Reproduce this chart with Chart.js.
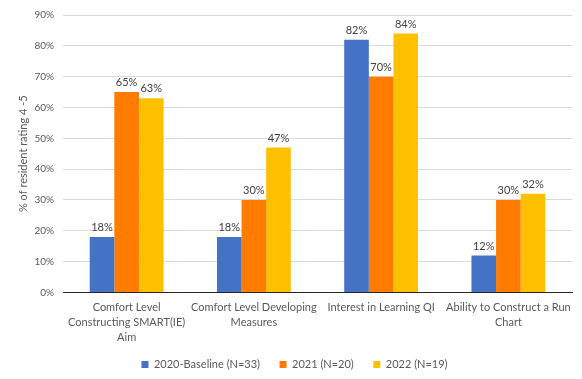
<!DOCTYPE html>
<html>
<head>
<meta charset="utf-8">
<script src="https://cdn.jsdelivr.net/npm/chart.js@4"></script>
<style>
  html, body { margin: 0; padding: 0; background: #fff; }
  #wrap { width: 582px; height: 379px; }
</style>
</head>
<body>
<div id="wrap"><canvas id="chart" width="582" height="379"></canvas></div>
<script>
// --- data ---
const categories = [
    ['Comfort Level', 'Constructing SMART(IE)', 'Aim'],
    ['Comfort Level Developing', 'Measures'],
    ['Interest in Learning QI'],
    ['Ability to Construct a Run', 'Chart']
];
const seriesNames = ['2020-Baseline (N=33)', '2021 (N=20)', '2022 (N=19)'];
const baseline2020 = [18, 18, 82, 12];
const year2021 = [65, 30, 70, 30];
const year2022 = [63, 47, 84, 32];
const seriesColors = ['#4472c4', '#ff7c00', '#ffc000'];
const yTicksMax = 90;

const FONT = 'Lato, "Open Sans", sans-serif';
const TEXT = '#595959';

// simple value labels above bars
const barLabels = {
    id: 'barLabels',
    afterDatasetsDraw(chart) {
        const ctx = chart.ctx;
        ctx.save();
        ctx.font = '11px ' + FONT;
        ctx.fillStyle = '#404040';
        ctx.textAlign = 'center';
        ctx.textBaseline = 'bottom';
        chart.data.datasets.forEach((ds, i) => {
            chart.getDatasetMeta(i).data.forEach((bar, j) => {
                ctx.fillText(ds.data[j] + '%', bar.x, bar.y - 4);
            });
        });
        ctx.restore();
    }
};

const allSeries = [baseline2020, year2021, year2022];

new Chart(document.getElementById('chart'), {
    type: 'bar',
    data: {
        labels: categories,
        datasets: allSeries.map((vals, i) => ({
            label: seriesNames[i],
            data: vals,
            backgroundColor: seriesColors[i],
            categoryPercentage: 0.58,
            barPercentage: 1.0
        }))
    },
    options: {
        responsive: false,
        animation: false,
        layout: { padding: { left: 17, right: 10, top: -5, bottom: -1 } },
        scales: {
            x: {
                grid: { display: false },
                border: { color: '#262626', width: 1 },
                ticks: { color: TEXT, font: { family: FONT, size: 11, lineHeight: 1.35 }, maxRotation: 0, autoSkip: false, padding: 0 }
            },
            y: {
                min: 0,
                max: yTicksMax,
                grid: { color: '#d9d9d9', drawTicks: false },
                border: { display: false },
                ticks: { stepSize: 10, color: TEXT, font: { family: FONT, size: 10 }, padding: 9, callback: v => v + '%' },
                title: { display: true, text: '% of resident rating 4 -5', color: TEXT, font: { family: FONT, size: 11 }, padding: 0 },
                afterFit: scale => { scale.width = 46; }
            }
        },
        plugins: {
            legend: {
                position: 'bottom',
                labels: {
                    boxWidth: 7, boxHeight: 7, color: TEXT, font: { family: FONT, size: 11 }, padding: 14,
                    // a little extra room between legend entries
                    generateLabels: chart => {
                        const items = Chart.defaults.plugins.legend.labels.generateLabels(chart);
                        items.forEach((it, i) => { if (i < items.length - 1) it.text += '\u2002'; });
                        return items;
                    }
                }
            },
            tooltip: { enabled: false }
        }
    },
    plugins: [barLabels]
});
</script>
</body>
</html>
